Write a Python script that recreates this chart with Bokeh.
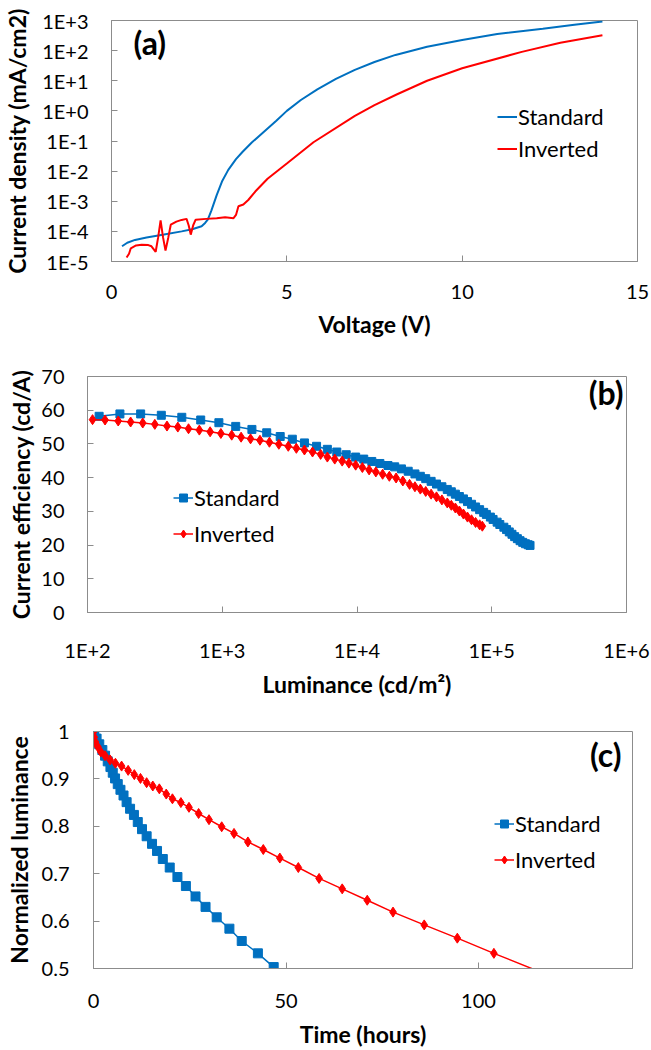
from bokeh.plotting import figure
from bokeh.models import Range1d, FixedTicker, Legend, LegendItem, Label
from bokeh.layouts import column
from bokeh.embed import file_html
from bokeh.resources import INLINE

# ---------------- data: panel (a) J-V ----------------
a_std_v = [0.30, 0.45, 0.67, 1.0, 1.5, 2.0, 2.3, 2.57, 2.67, 2.75, 2.85, 3.0, 3.15, 3.33, 3.55, 3.74,
           4.0, 4.34, 4.7, 5.0, 5.4, 5.87, 6.4, 6.94, 7.5, 8.1, 9.0, 10.0, 11.0, 12.3, 13.2, 14.0]
a_std_j = [3.2e-5, 4.2e-5, 5.2e-5, 6.3e-5, 7.9e-5, 1.0e-4, 1.17e-4, 1.48e-4, 1.9e-4, 2.5e-4, 5.0e-4,
           1.6e-3, 4.5e-3, 1.1e-2, 2.5e-2, 4.4e-2, 8.9e-2, 0.2, 0.47, 1.0, 2.3, 5.2, 11.5, 23, 42, 72,
           135, 224, 355, 537, 724, 933]
a_inv_v = [0.43, 0.50, 0.55, 0.70, 0.86, 1.05, 1.14, 1.26, 1.33, 1.40, 1.47, 1.54, 1.62, 1.69, 1.85,
           2.0, 2.14, 2.20, 2.26, 2.33, 2.40, 2.7, 3.0, 3.24, 3.48, 3.55, 3.62, 3.76, 3.9, 4.1, 4.45,
           5.0, 5.76, 6.94, 7.5, 8.13, 9.0, 10.0, 11.7, 12.8, 14.0]
a_inv_j = [1.35e-5, 1.8e-5, 2.75e-5, 3.4e-5, 3.6e-5, 3.5e-5, 3.2e-5, 2.1e-5, 6.3e-5, 2.3e-4, 6.3e-5,
           2.3e-5, 6.3e-5, 1.66e-4, 2.1e-4, 2.4e-4, 2.6e-4, 1.6e-4, 7.8e-5, 1.6e-4, 2.45e-4, 2.6e-4,
           2.75e-4, 2.95e-4, 2.75e-4, 3.5e-4, 6.8e-4, 7.8e-4, 1.1e-3, 2.1e-3, 5.6e-3, 1.8e-2, 9.1e-2,
           0.68, 1.55, 3.5, 10, 26, 91, 182, 324]
a_xticks = [0, 5, 10, 15]
a_yticks = [1e-5, 1e-4, 1e-3, 1e-2, 1e-1, 1e0, 1e1, 1e2, 1e3]
a_ylabels = ["1E-5", "1E-4", "1E-3", "1E-2", "1E-1", "1E+0", "1E+1", "1E+2", "1E+3"]

# ---------------- data: panel (b) efficiency ----------------
b_std_l = [122, 174, 248, 353, 501, 692, 944, 1259, 1660, 2138, 2692, 3311, 4074, 5012, 6026, 7079,
           8318, 9772, 11220, 12880, 14790, 16980, 19050, 21380, 23990, 26920, 29510, 32360, 35480,
           38900, 42660, 46770, 50120, 53700, 57540, 61660, 66070, 70790, 75860, 81280, 87100, 91200,
           97720, 102300, 109600, 114800, 123000, 128800, 134900, 141300, 147900, 154900, 162200,
           169800, 177800, 186200, 192300]
b_std_e = [58.2, 58.9, 58.9, 58.5, 57.9, 57.1, 56.3, 55.2, 54.3, 53.3, 52.2, 51.4, 50.3, 49.3, 48.4,
           47.6, 46.8, 46.1, 45.5, 44.8, 44.2, 43.6, 43.2, 42.6, 41.9, 41.1, 40.4, 39.7, 38.9, 38.1,
           37.3, 36.5, 35.8, 35.1, 34.4, 33.7, 32.9, 32.1, 31.3, 30.5, 29.7, 29.1, 28.3, 27.6, 26.8,
           26.1, 25.3, 24.6, 23.9, 23.2, 22.5, 21.9, 21.3, 20.8, 20.4, 20.1, 19.9]
b_inv_l = [109, 135, 169, 209, 257, 316, 389, 468, 562, 676, 813, 977, 1175, 1380, 1622, 1905, 2239,
           2630, 3090, 3548, 4074, 4677, 5370, 6026, 6839, 7762, 8710, 9772, 10960, 12300, 13800,
           15490, 17380, 19500, 21880, 24550, 26920, 29510, 32360, 35480, 38900, 42660, 46770, 50120,
           53700, 57540, 61660, 66070, 70790, 75860, 81280, 85110]
b_inv_e = [57.2, 57.1, 56.8, 56.5, 56.2, 55.8, 55.3, 55.0, 54.5, 54.1, 53.6, 53.1, 52.6, 52.0, 51.5,
           51.1, 50.5, 49.9, 49.3, 48.7, 48.2, 47.6, 46.9, 46.1, 45.5, 44.9, 44.3, 43.7, 43.0, 42.3,
           41.7, 41.0, 40.4, 39.9, 39.0, 38.0, 37.3, 36.6, 35.9, 35.1, 34.3, 33.4, 32.5, 31.8, 31.0,
           30.1, 29.2, 28.3, 27.5, 26.7, 26.0, 25.6]
b_xticks = [1e2, 1e3, 1e4, 1e5, 1e6]
b_xlabels = ["1E+2", "1E+3", "1E+4", "1E+5", "1E+6"]
b_yticks = [0, 10, 20, 30, 40, 50, 60, 70]

# ---------------- data: panel (c) lifetime ----------------
c_std_t = [0, 0.2, 0.8, 1.5, 2.3, 3.0, 3.7, 4.4, 5.0, 5.6, 6.3, 7.0, 7.8, 8.6, 9.5, 10.5, 11.5, 12.6,
           13.8, 15.2, 16.5, 18.0, 19.8, 21.8, 24.0, 26.5, 29.1, 32.0, 35.3, 38.5, 42.7, 46.8]
c_std_y = [1.0, 0.995, 0.985, 0.973, 0.961, 0.949, 0.937, 0.925, 0.913, 0.901, 0.889, 0.877, 0.865,
           0.851, 0.837, 0.824, 0.809, 0.794, 0.779, 0.763, 0.748, 0.731, 0.713, 0.693, 0.674, 0.652,
           0.630, 0.608, 0.584, 0.558, 0.532, 0.503]
c_inv_t = [0, 0.2, 0.5, 1.1, 1.9, 3.0, 4.3, 5.7, 7.3, 9.0, 10.6, 12.2, 13.8, 15.4, 17.1, 18.9, 20.5,
           22.7, 24.8, 27.3, 30.0, 33.3, 36.5, 40.1, 44.1, 48.4, 53.2, 58.6, 64.6, 71.1, 77.8, 85.9,
           94.5, 104.0, 123.0]
c_inv_y = [0.999, 0.988, 0.978, 0.968, 0.957, 0.949, 0.940, 0.933, 0.927, 0.918, 0.909, 0.901, 0.892,
           0.885, 0.879, 0.868, 0.858, 0.850, 0.840, 0.827, 0.814, 0.799, 0.785, 0.767, 0.751, 0.733,
           0.713, 0.690, 0.668, 0.644, 0.619, 0.592, 0.564, 0.532, 0.470]
c_xticks = [0, 50, 100]
c_yticks = [0.5, 0.6, 0.7, 0.8, 0.9, 1.0]
c_ylabels = ["0.5", "0.6", "0.7", "0.8", "0.9", "1"]

BLUE = "#0070C0"
RED = "#FF0000"
FONT = "Lato"
AXC = "#8C8C8C"
W = 651


def make_fig(h, xr, yr, xt, yt, ml, mr, mt, mb):
    p = figure(width=W, height=h, x_range=xr, y_range=yr, x_axis_type=xt, y_axis_type=yt,
               output_backend="svg", toolbar_location=None, frame_align=False,
               min_border_left=ml, min_border_right=mr, min_border_top=mt, min_border_bottom=mb)
    p.grid.visible = False
    p.outline_line_color = AXC
    p.outline_line_width = 1
    p.background_fill_color = "white"
    p.border_fill_color = "white"
    for ax in (p.xaxis[0], p.yaxis[0]):
        ax.axis_line_color = AXC
        ax.major_tick_line_color = AXC
        ax.major_tick_in = 6
        ax.major_tick_out = 0
        ax.minor_tick_line_color = None
        ax.major_label_text_font = FONT
        ax.major_label_text_font_size = "20px"
        ax.major_label_text_color = "#000000"
        ax.axis_label_text_font = FONT
        ax.axis_label_text_font_style = "bold"
        ax.axis_label_text_font_size = "23px"
        ax.axis_label_text_color = "#000000"
    return p


def make_legend(items, loc, spacing):
    leg = Legend(items=items, location=loc, label_text_font=FONT, label_text_font_size="22px",
                 label_text_color="#000000", glyph_width=20, glyph_height=21, label_height=21,
                 label_standoff=1, spacing=spacing, padding=0, margin=0,
                 border_line_color=None, background_fill_alpha=0)
    return leg


def panel_label(txt, x, y, align):
    return Label(x=x, y=y, x_units="screen", y_units="screen", text=txt, text_font=FONT,
                 text_font_style="bold", text_font_size="32px", text_baseline="middle",
                 text_align=align, text_color="#000000")


# ---------------- panel (a) ----------------
pa = make_fig(340, Range1d(0, 15), Range1d(1e-5, 1e3), "linear", "log", 110, 14, 20, 76)
pa.xaxis.ticker = FixedTicker(ticks=a_xticks)
pa.yaxis.ticker = FixedTicker(ticks=a_yticks)
pa.yaxis.major_label_overrides = dict(zip(a_yticks, a_ylabels))
pa.xaxis.axis_label = "Voltage (V)"
pa.yaxis.axis_label = "Current density (mA/cm2)"
pa.yaxis.major_label_standoff = 23
pa.yaxis.axis_label_standoff = 8
pa.xaxis.major_label_standoff = 23
pa.xaxis.axis_label_standoff = 8
ra1 = pa.line(a_std_v, a_std_j, line_color=BLUE, line_width=2)
ra2 = pa.line(a_inv_v, a_inv_j, line_color=RED, line_width=2)
pa.add_layout(make_legend([LegendItem(label="Standard", renderers=[ra1]),
                           LegendItem(label="Inverted", renderers=[ra2])], (386, 99), 5))
pa.add_layout(panel_label("(a)", 22, 219, "left"))

# ---------------- panel (b) ----------------
pb = make_fig(360, Range1d(1e2, 1e6), Range1d(0, 70), "log", "linear", 87, 25, 36, 81)
pb.xaxis.ticker = FixedTicker(ticks=b_xticks)
pb.xaxis.major_label_overrides = dict(zip(b_xticks, b_xlabels))
pb.yaxis.ticker = FixedTicker(ticks=b_yticks)
pb.xaxis.axis_label = "Luminance (cd/m\u00b2)"
pb.yaxis.axis_label = "Current efficiency (cd/A)"
pb.yaxis.major_label_standoff = 23
pb.yaxis.axis_label_standoff = 3
pb.xaxis.major_label_standoff = 25
pb.xaxis.axis_label_standoff = 5
rb1 = pb.line(b_std_l, b_std_e, line_color=BLUE, line_width=1.5)
rb1m = pb.scatter(b_std_l, b_std_e, marker="square", size=8, fill_color=BLUE, line_color=BLUE)
rb2 = pb.line(b_inv_l, b_inv_e, line_color=RED, line_width=1.5)
rb2m = pb.scatter(b_inv_l, b_inv_e, marker="diamond", size=10, fill_color=RED, line_color=RED)
pb.add_layout(make_legend([LegendItem(label="Standard", renderers=[rb1, rb1m]),
                           LegendItem(label="Inverted", renderers=[rb2, rb2m])], (86, 65), 9))
pb.add_layout(panel_label("(b)", 536, 220, "right"))

# ---------------- panel (c) ----------------
pc = make_fig(350, Range1d(0, 140), Range1d(0.5, 1.0), "linear", "linear", 93, 19, 31, 76)
pc.xaxis.ticker = FixedTicker(ticks=c_xticks)
pc.yaxis.ticker = FixedTicker(ticks=c_yticks)
pc.yaxis.major_label_overrides = dict(zip(c_yticks, c_ylabels))
pc.xaxis.axis_label = "Time (hours)"
pc.yaxis.axis_label = "Normalized luminance"
pc.yaxis.major_label_standoff = 24
pc.yaxis.axis_label_standoff = 6
pc.xaxis.major_label_standoff = 25
pc.xaxis.axis_label_standoff = 9
rc1 = pc.line(c_std_t, c_std_y, line_color=BLUE, line_width=1.5)
rc1m = pc.scatter(c_std_t, c_std_y, marker="square", size=9, fill_color=BLUE, line_color=BLUE)
rc2 = pc.line(c_inv_t, c_inv_y, line_color=RED, line_width=1.5)
rc2m = pc.scatter(c_inv_t, c_inv_y, marker="diamond", size=10, fill_color=RED, line_color=RED)
pc.add_layout(make_legend([LegendItem(label="Standard", renderers=[rc1, rc1m]),
                           LegendItem(label="Inverted", renderers=[rc2, rc2m])], (401, 95), 9))
pc.add_layout(panel_label("(c)", 528, 214, "right"))

layout = column(pa, pb, pc, spacing=0)
open("out.html", "w").write(file_html(layout, INLINE))
